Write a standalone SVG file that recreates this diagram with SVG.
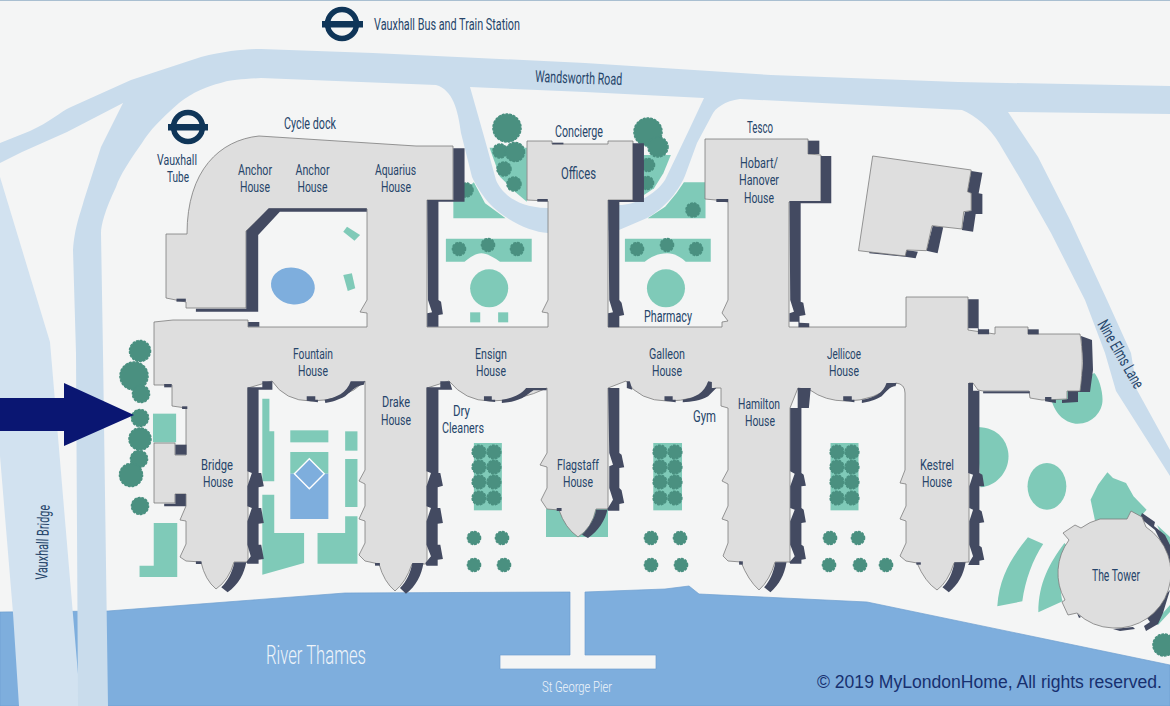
<svg xmlns="http://www.w3.org/2000/svg" width="1170" height="706" viewBox="0 0 1170 706">
<style>
.road{fill:#c9dcec}
.bridge{fill:#d2e2f0}
.g{fill:#7fcab8}
.tr{fill:#4a9080;stroke:#4a9080;stroke-width:1.6;stroke-dasharray:1.6 2.2;stroke-linecap:round}
.b{fill:#dedede;stroke:#7c7c7c;stroke-width:.8;stroke-linejoin:miter;vector-effect:non-scaling-stroke}
.d{fill:#434a61}
.l{font-family:"Liberation Sans Narrow","Roboto","Liberation Sans",sans-serif;font-weight:400;font-size:14.7px;fill:#26456a}
.s{font-size:16.500px}
.w{fill:#eef4fa;font-family:"Roboto","Liberation Sans",sans-serif;font-weight:300}
.ring{fill:none;stroke:#0f3558;stroke-width:5.5}
.bar{fill:#0f3558}
</style>
<rect width="1170" height="706" fill="#f4f5f5"/>
<rect width="1170" height="1" fill="#a9bfd1"/>
<g id="river"><path d="M0,612L108,611L345,593L570,592V655H500V669H656V655H585V592L665,589L689,586L699,594L867,602L1170,665V706H0Z" fill="#7eaedd" stroke="#6f9fd0" stroke-width=".7"/></g>
<g id="roads">
<path class="bridge" d="M0,177L50,342L65,520L79,686L80,706H19L13,613L0,456Z"/>
<path class="road" d="M0,143L30,131C50,122 60,112 71,107L131,80L201,57C225,51 245,49 261,49L373,53L585,63L771,75L958,82L1170,86V114L1008,112L1038,157L1070,220L1107,300L1131,353L1137,390L1170,450V476L1116,391L1105,353L1085,300L1051,233L1021,180L999,143C990,128 975,115 962,110L740,99C725,101 715,108 712,115L697,143L686,173C680,190 665,208 647,218L619,230L548,233C530,232 505,220 489,203C478,190 472,177 472,177L461,133C458,110 453,90 436,85L261,78C245,79 230,80 224,82C200,88 190,95 179,103C160,120 150,130 142,143C130,160 120,175 116,187C105,210 101,225 101,233L103,353L108,706H78L76,353L73,250C75,225 80,215 84,200L101,147L123,103L67,132L22,152L0,163Z"/>
<path fill="#f4f5f5" d="M470,87L485,140L496,180C501,192 515,207 547,208L619,205C635,205 655,195 665,180L678,153L689,130L704,98L585,92Z"/>
</g>
<g id="green">
<g transform="scale(.37313 .33333)">
<path class="g" d="M1312,443H1412V605L1380,575L1340,530Z"/>
<path class="g" d="M1270,547L1215,600V655H1355L1300,610Z"/>
<path class="g" d="M1195,716H1425V785H1340C1320,770 1305,760 1290,760C1275,760 1260,772 1245,785H1195Z"/>
<ellipse class="g" cx="1311" cy="865" rx="51" ry="57"/>
<rect class="g" x="1260" y="937" width="27" height="30"/>
<rect class="g" x="1335" y="937" width="27" height="30"/>
<ellipse cx="785" cy="858" rx="60" ry="54" fill="#7eaedd" transform="rotate(28 785 858)"/>
<path class="g" d="M930,680L965,705L950,722L920,695Z"/>
<path class="g" d="M920,825L943,820L952,865L932,873Z"/>
</g>
<g transform="translate(585) scale(.37313 .33333)">
<path class="g" d="M158,465H230L210,520L185,565L158,585Z"/>
<path class="g" d="M265,547H323V655H168L215,620L245,580Z"/>
<path class="g" d="M107,716H337V785H270C255,770 240,760 220,760C195,760 175,772 160,785H107Z"/>
<ellipse class="g" cx="217" cy="865" rx="51" ry="57"/>
</g>
<g transform="translate(0 353) scale(.37313 .33333)">
<path class="g" d="M703,137H722V235H735V385H703Z"/>
<path class="g" d="M703,425H735V540H815V630L703,665Z"/>
<rect class="g" x="778" y="232" width="102" height="36"/>
<rect class="g" x="778" y="297" width="102" height="65"/>
<rect x="778" y="362" width="102" height="136" fill="#7eaedd"/>
<path d="M829,317L869,362L829,407L789,362Z" fill="#7eaedd" stroke="#fff" stroke-width="1.4" vector-effect="non-scaling-stroke"/>
<rect class="g" x="925" y="235" width="33" height="58"/>
<rect class="g" x="925" y="318" width="33" height="144"/>
<path class="g" d="M925,490H958V632H851V540H925Z"/>
<rect class="g" x="410" y="182" width="62" height="86"/>
<path class="g" d="M412,510H475V672H374V638H412Z"/>
<rect class="g" x="1270" y="270" width="75" height="202"/>
</g>
<rect class="g" x="546" y="509" width="62" height="28"/>
<g transform="translate(585 353) scale(.37313 .33333)">
<rect class="g" x="183" y="270" width="77" height="202"/>
<rect class="g" x="658" y="270" width="75" height="202"/>
<path class="g" d="M1250,140C1260,185 1290,212 1320,212C1360,212 1387,175 1387,140C1387,110 1375,70 1365,60L1300,100Z"/>
<path class="g" d="M1050,222C1110,222 1135,270 1135,310C1135,360 1100,400 1060,403Z"/>
<ellipse class="g" cx="1238" cy="400" rx="52" ry="70"/>
<path class="g" d="M1400,358L1415,375L1450,390L1470,430L1505,470L1490,490L1460,520L1370,520L1355,440L1375,395Z"/>
<path class="g" d="M1187,553L1228,573C1200,620 1180,680 1172,745L1105,760C1110,670 1145,610 1187,553Z"/>
<path class="g" d="M1285,570L1300,590C1275,660 1270,700 1280,745L1215,778C1215,690 1245,630 1285,570Z"/>
</g>
<path class="g" d="M1157,525L1170,537V552ZM1158,625L1170,612V605L1155,622Z"/>
</g>
<g id="trees">
<circle class="tr" cx="507" cy="128" r="14"/><circle class="tr" cx="500" cy="151" r="7"/><circle class="tr" cx="515" cy="152" r="9.500"/><circle class="tr" cx="504" cy="169" r="7"/><circle class="tr" cx="514" cy="184" r="7"/><circle class="tr" cx="466" cy="190" r="7"/>
<circle class="tr" cx="459" cy="249" r="6.500"/><circle class="tr" cx="488" cy="245" r="6.500"/><circle class="tr" cx="517" cy="249" r="6.500"/>
<circle class="tr" cx="648" cy="132" r="14"/><circle class="tr" cx="658" cy="147" r="10"/><circle class="tr" cx="648" cy="165" r="6.500"/><circle class="tr" cx="647" cy="183" r="6.500"/><circle class="tr" cx="693" cy="210" r="7"/>
<circle class="tr" cx="637" cy="249" r="6.500"/><circle class="tr" cx="667" cy="245" r="6.500"/><circle class="tr" cx="696" cy="249" r="6.500"/>
<circle class="tr" cx="140" cy="351" r="10.500"/><circle class="tr" cx="134" cy="376" r="14"/><circle class="tr" cx="141" cy="394" r="8.500"/><circle class="tr" cx="140" cy="418" r="8.500"/><circle class="tr" cx="140" cy="439" r="11"/><circle class="tr" cx="139" cy="459" r="8.500"/><circle class="tr" cx="131" cy="475" r="11.500"/><circle class="tr" cx="140" cy="506" r="8.500"/>
<circle class="tr" cx="479" cy="452" r="6.800"/><circle class="tr" cx="494" cy="452" r="6.800"/><circle class="tr" cx="479" cy="467" r="6.800"/><circle class="tr" cx="494" cy="467" r="6.800"/><circle class="tr" cx="479" cy="482" r="6.800"/><circle class="tr" cx="494" cy="482" r="6.800"/><circle class="tr" cx="479" cy="498" r="6.800"/><circle class="tr" cx="494" cy="498" r="6.800"/>
<circle class="tr" cx="474" cy="538" r="6.500"/><circle class="tr" cx="502" cy="538" r="6.500"/><circle class="tr" cx="474" cy="565" r="6.500"/><circle class="tr" cx="504" cy="565" r="6.500"/>
<circle class="tr" cx="660" cy="452" r="6.800"/><circle class="tr" cx="675" cy="452" r="6.800"/><circle class="tr" cx="660" cy="467" r="6.800"/><circle class="tr" cx="675" cy="467" r="6.800"/><circle class="tr" cx="660" cy="482" r="6.800"/><circle class="tr" cx="675" cy="482" r="6.800"/><circle class="tr" cx="660" cy="498" r="6.800"/><circle class="tr" cx="675" cy="498" r="6.800"/>
<circle class="tr" cx="651" cy="538" r="6.500"/><circle class="tr" cx="680" cy="538" r="6.500"/><circle class="tr" cx="651" cy="565" r="6.500"/><circle class="tr" cx="681" cy="565" r="6.500"/>
<circle class="tr" cx="837" cy="452" r="6.800"/><circle class="tr" cx="852" cy="452" r="6.800"/><circle class="tr" cx="837" cy="467" r="6.800"/><circle class="tr" cx="852" cy="467" r="6.800"/><circle class="tr" cx="837" cy="482" r="6.800"/><circle class="tr" cx="852" cy="482" r="6.800"/><circle class="tr" cx="837" cy="498" r="6.800"/><circle class="tr" cx="852" cy="498" r="6.800"/>
<circle class="tr" cx="830" cy="538" r="6.500"/><circle class="tr" cx="858" cy="538" r="6.500"/><circle class="tr" cx="829" cy="565" r="6.500"/><circle class="tr" cx="860" cy="565" r="6.500"/><circle class="tr" cx="886" cy="565" r="6.500"/>
<circle class="tr" cx="1164" cy="645" r="11"/>
</g>
<g id="tilted-building" transform="translate(585) scale(.37313 .33333)">
<path class="d" d="M1035,513L1065,518L1055,580L1065,582V642H1047L1040,695L1010,690L1018,635L1035,632V580L1025,575Z"/>
<path class="d" d="M932,677L960,682L945,760L915,752Z"/>
<path class="d" d="M862,750L892,755L886,775L858,770L762,760V755L858,765Z"/>
<path class="b" d="M771,468L1035,510L1025,575L1035,580V632L1015,635L1010,687L930,677L915,752L862,750L858,768L733,752Z"/>
</g>
<g id="main-building">
<path class="d" d="M1081,336L1092,340L1093,370L1090,392H1078V402L1062,403V400L1068,399V391H1080L1083,363Z"/>
<path class="b" d="M259,136L416,146H453V200H427V327H548V313L542,312L548,300V201L527,200V141H552V144H608V141H633V200H608V327H722V322L728,321L722,313L728,300V202L716,200L705,199V139H808V154L821,155V202H789V327H906V297H968V330L995,334V327H1028V334H1080C1083,350 1083,370 1080,391H1067V399L1042,400L1030,398L1029,391H983L978,390L973,383H969V562L954,563Q948,582 937,590Q925,582 917,563L906,561L900,556L906,543V521L900,519L906,506V484L900,483L905,470V393Q905,384 896,383Q875,401 846,401Q825,401 810,390L798,388L790,408V562H775Q770,580 759,590Q748,580 741,562L728,561L723,556L728,543V521L722,519L728,506V484L722,481L728,470V408L721,406V388H715Q695,401 667,401Q640,401 626,381L608,388V509H596Q592,528 578,537Q565,528 559,510L547,509L541,500L547,488V467L540,465L547,453V388Q520,401 490,401Q465,401 449,381L427,388V564H412Q406,582 395,591Q384,582 379,564L365,561L359,555L365,543V521L359,519L365,506V484L359,481L365,470V381Q345,401 311,401Q285,401 272,381L248,388V562H234Q229,580 216,589Q205,580 201,562L186,561L180,557L186,544V521L180,520L186,506V494H175V503H154V443H175V455H186V408L172,406V385H154V322L173,320H248V327H367V313L360,312L367,300V209H269L246,231V308H186V302L166,298V234H187C187,170 220,140 259,136Z"/>
<g id="shadow-nw" transform="scale(.37313 .33333)">
<path class="d" d="M1215,445H1245V605H1175V900L1182,905L1187,943L1175,945V980H1145V940L1158,937L1147,900L1145,600H1215Z"/>
<path class="d" d="M720,625H983V635H750L692,705V935H525V926H660V693Z"/>
<rect class="d" x="473" y="896" width="25" height="9"/><rect class="d" x="665" y="966" width="30" height="14"/>
<rect class="d" x="1480" y="428" width="30" height="5"/><rect class="d" x="1440" y="597" width="28" height="8"/>
</g>
<g id="shadow-ne" transform="translate(585) scale(.37313 .33333)">
<path class="d" d="M128,430H158V606H92V900L98,908L105,945L92,948V982H62V940L75,937L65,900L62,600H128Z"/>
<rect class="d" x="598" y="422" width="30" height="40"/>
<path class="d" d="M632,468H660V610H578V905L585,908L591,945L575,948V968L601,970V982H572V965H548V940L560,935L550,900L548,603H632Z"/>
<rect class="d" x="352" y="597" width="32" height="9"/>
<path class="d" d="M1027,898H1055V988H1083V1003H1053V985H1027Z"/>
<rect class="d" x="1187" y="988" width="29" height="15"/>
</g>
<g id="shadow-sw" transform="translate(0 353) scale(.37313 .33333)">
<rect class="d" x="440" y="93" width="20" height="10"/><rect class="d" x="488" y="160" width="14" height="8"/>
<rect class="d" x="470" y="275" width="30" height="30"/>
<path class="d" d="M470,423H498V460H440V452H470Z"/>
<rect class="d" x="525" y="625" width="15" height="8"/>
<path class="d" d="M663,103H703V85H730V110H693V360H700L707,400L693,403V465H700L707,510L693,512V575H700L707,618L693,620V632H663L660,628L672,610L663,575V505L675,465L663,460V400L675,360L663,355Z"/>
<path class="d" d="M628,628H660C655,660 640,695 610,718L593,703C610,685 622,660 628,628Z"/>
<path class="d" d="M822,130H845V140H852V148L822,143Z"/>
<path class="d" d="M870,140C900,135 930,120 940,85H978L975,95C955,98 945,110 925,130C905,142 890,147 872,150Z"/>
<path class="d" d="M1143,103H1180V85H1205L1212,110H1175V360H1180L1187,398L1173,403V465H1180L1187,510L1173,512V575H1180L1187,618L1173,620V638H1143L1140,630L1155,610L1143,575V505L1155,465L1143,460V400L1155,360L1143,355Z"/>
<path class="d" d="M1105,630H1135C1130,665 1115,700 1088,722L1072,705C1090,685 1100,660 1105,630Z"/>
<rect class="d" x="1005" y="630" width="13" height="8"/>
<path class="d" d="M1297,130H1318V140H1327V147L1297,143Z"/>
<path class="d" d="M1345,140C1375,135 1395,125 1410,105H1465V112H1430C1420,118 1412,128 1400,135C1380,145 1365,148 1345,150Z"/>
<rect class="d" x="1492" y="465" width="13" height="9"/>
</g>
<g id="shadow-se" transform="translate(585 353) scale(.37313 .33333)">
<path class="d" d="M62,105H92V300L98,305L105,343L92,345V405L98,412L105,450L92,453V473H62L60,468L75,440L65,405V340L75,335L65,300Z"/>
<path class="d" d="M30,470H60C55,500 35,535 8,555L-8,545C10,525 25,500 30,470Z"/>
<path class="d" d="M112,85H120L127,110L112,105Z"/>
<path class="d" d="M262,140C295,135 320,120 330,85L340,87V105H352L330,130C310,143 285,147 262,148Z"/>
<path class="d" d="M213,130H235V140H243V148L213,143Z"/>
<path class="d" d="M570,105H605L600,165H580V360L586,365L592,398L580,400V465L586,470L592,508L580,510V575L586,580L592,618L580,620V632H550L548,628L562,610L550,575V505L562,470L550,465V400L562,362L550,355V165H570Z"/>
<path class="d" d="M510,628H540C535,665 520,695 497,718L480,703C495,685 505,660 510,628Z"/>
<rect class="d" x="413" y="625" width="10" height="10"/>
<path class="d" d="M742,140C775,135 800,120 808,90H835L832,100C822,100 815,105 795,130C775,143 760,147 742,150Z"/>
<path class="d" d="M692,130H715V140H722V148L692,143Z"/>
<path class="d" d="M1027,90H1040V113H1057V360L1065,365L1070,400H1057V470L1063,475L1070,508L1057,510V578L1063,583L1070,620L1057,623V636H1027L1030,628L1040,610L1030,575V505L1040,470L1030,465V400L1040,365L1027,360Z"/>
<path class="d" d="M990,628H1020C1015,665 1000,695 975,718L958,703C975,685 985,660 990,628Z"/>
<rect class="d" x="888" y="628" width="12" height="7"/>
<rect class="d" x="1067" y="115" width="125" height="6"/>
<path class="d" d="M1233,132H1250V140H1262V150L1233,145Z"/>
</g>
</g>
<g id="the-tower">
<path class="d" d="M1142,513L1155,522L1154,526L1165,535L1170,545V575L1165,550L1155,530L1140,518Z"/>
<path class="d" d="M1170,590L1163,613L1158,624L1146,631L1144,626L1150,622L1147,618L1160,600Z"/>
<path class="d" d="M1113,629L1133,627L1135,629L1120,631ZM1077,613L1081,617L1079,618Z"/>
<path class="b" d="M1100,519H1127L1131,511L1142,517L1146,527A55,55 0 0 1 1113,628A55,55 0 0 1 1077,613L1068,615L1062,602L1065,600A55,55 0 0 1 1069,540L1063,533L1075,525L1081,528A55,55 0 0 1 1100,519Z"/>
</g>
<g id="arrow"><path d="M0,398H64V383L134,415L64,446V431H0Z" fill="#0a1672"/></g>
<g id="stations">
<g id="vauxhall-station"><circle class="ring" cx="342" cy="24" r="14.500"/><rect class="bar" x="322" y="21" width="41" height="6.500"/></g>
<g id="vauxhall-tube"><circle class="ring" cx="188" cy="127" r="14.500"/><rect class="bar" x="168" y="124" width="40" height="6.500"/></g>
</g>
<g id="labels">
<text class="l s" x="374" y="30" textLength="146" lengthAdjust="spacingAndGlyphs">Vauxhall Bus and Train Station</text>
<text class="l s" x="535" y="82" textLength="87" lengthAdjust="spacingAndGlyphs" transform="rotate(2 535 82)">Wandsworth Road</text>
<text class="l s" x="284" y="129" textLength="52" lengthAdjust="spacingAndGlyphs">Cycle dock</text>
<text class="l" x="157" y="165" textLength="40" lengthAdjust="spacingAndGlyphs">Vauxhall</text>
<text class="l" x="167" y="182" textLength="22" lengthAdjust="spacingAndGlyphs">Tube</text>
<text class="l" x="238" y="175" textLength="34" lengthAdjust="spacingAndGlyphs">Anchor</text>
<text class="l" x="240" y="192" textLength="30" lengthAdjust="spacingAndGlyphs">House</text>
<text class="l" x="295.500" y="175" textLength="34" lengthAdjust="spacingAndGlyphs">Anchor</text>
<text class="l" x="297.500" y="192" textLength="30" lengthAdjust="spacingAndGlyphs">House</text>
<text class="l" x="375" y="175" textLength="41" lengthAdjust="spacingAndGlyphs">Aquarius</text>
<text class="l" x="381" y="192" textLength="30" lengthAdjust="spacingAndGlyphs">House</text>
<text class="l s" x="555" y="137" textLength="48" lengthAdjust="spacingAndGlyphs">Concierge</text>
<text class="l s" x="561" y="179" textLength="35" lengthAdjust="spacingAndGlyphs">Offices</text>
<text class="l s" x="747" y="133" textLength="26" lengthAdjust="spacingAndGlyphs">Tesco</text>
<text class="l" x="740" y="168" textLength="38" lengthAdjust="spacingAndGlyphs">Hobart/</text>
<text class="l" x="739" y="185" textLength="40" lengthAdjust="spacingAndGlyphs">Hanover</text>
<text class="l" x="744" y="203" textLength="30" lengthAdjust="spacingAndGlyphs">House</text>
<text class="l s" x="644" y="322" textLength="48" lengthAdjust="spacingAndGlyphs">Pharmacy</text>
<text class="l" x="293" y="359" textLength="40" lengthAdjust="spacingAndGlyphs">Fountain</text>
<text class="l" x="298" y="376" textLength="30" lengthAdjust="spacingAndGlyphs">House</text>
<text class="l" x="475" y="359" textLength="32" lengthAdjust="spacingAndGlyphs">Ensign</text>
<text class="l" x="476" y="376" textLength="30" lengthAdjust="spacingAndGlyphs">House</text>
<text class="l" x="649" y="359" textLength="36" lengthAdjust="spacingAndGlyphs">Galleon</text>
<text class="l" x="652" y="376" textLength="30" lengthAdjust="spacingAndGlyphs">House</text>
<text class="l" x="827" y="359" textLength="34" lengthAdjust="spacingAndGlyphs">Jellicoe</text>
<text class="l" x="829" y="376" textLength="30" lengthAdjust="spacingAndGlyphs">House</text>
<text class="l" x="382" y="407" textLength="28" lengthAdjust="spacingAndGlyphs">Drake</text>
<text class="l" x="381" y="425" textLength="30" lengthAdjust="spacingAndGlyphs">House</text>
<text class="l" x="453" y="416" textLength="17" lengthAdjust="spacingAndGlyphs">Dry</text>
<text class="l" x="442" y="433" textLength="42" lengthAdjust="spacingAndGlyphs">Cleaners</text>
<text class="l" x="201" y="470" textLength="32" lengthAdjust="spacingAndGlyphs">Bridge</text>
<text class="l" x="203" y="487" textLength="30" lengthAdjust="spacingAndGlyphs">House</text>
<text class="l" x="557" y="470" textLength="42" lengthAdjust="spacingAndGlyphs">Flagstaff</text>
<text class="l" x="563" y="487" textLength="30" lengthAdjust="spacingAndGlyphs">House</text>
<text class="l s" x="693" y="422" textLength="23" lengthAdjust="spacingAndGlyphs">Gym</text>
<text class="l" x="738" y="409" textLength="42" lengthAdjust="spacingAndGlyphs">Hamilton</text>
<text class="l" x="745" y="426" textLength="30" lengthAdjust="spacingAndGlyphs">House</text>
<text class="l" x="920" y="470" textLength="34" lengthAdjust="spacingAndGlyphs">Kestrel</text>
<text class="l" x="922" y="487" textLength="30" lengthAdjust="spacingAndGlyphs">House</text>
<text class="l s" x="1092" y="581" textLength="48" lengthAdjust="spacingAndGlyphs">The Tower</text>
<text class="l w" x="266" y="664" textLength="100" lengthAdjust="spacingAndGlyphs" style="font-size:25px">River Thames</text>
<text class="l w" x="542" y="692" textLength="70" lengthAdjust="spacingAndGlyphs" style="font-size:15px">St George Pier</text>
<text class="l s" x="0" y="0" textLength="75" lengthAdjust="spacingAndGlyphs" transform="translate(47 580) rotate(-88)">Vauxhall Bridge</text>
<text class="l s" x="0" y="0" textLength="76" lengthAdjust="spacingAndGlyphs" transform="translate(1097 324) rotate(60)">Nine Elms Lane</text>
<text x="817" y="688" textLength="345" lengthAdjust="spacingAndGlyphs" style="font-family:'Liberation Sans',Arial,sans-serif;font-size:18px;fill:#17306f">© 2019 MyLondonHome, All rights reserved.</text>
</g>
</svg>
